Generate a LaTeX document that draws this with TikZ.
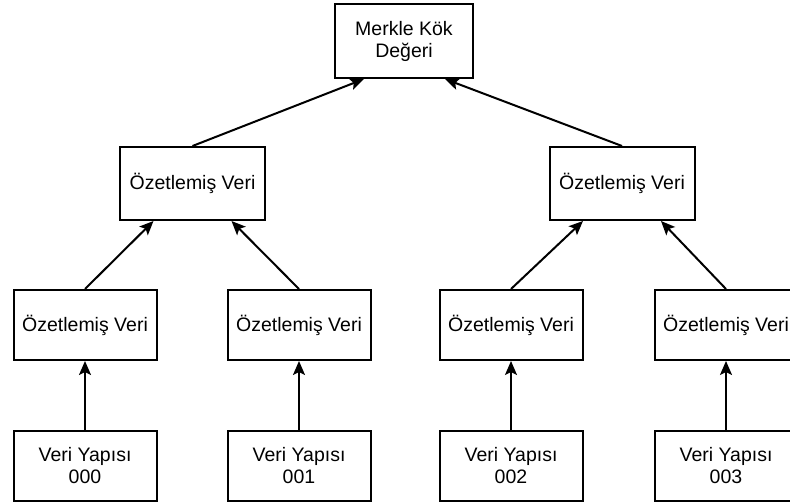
\documentclass[tikz,border=0pt]{standalone}
\usepackage{fontspec}
\setmainfont{Liberation Sans}
\usetikzlibrary{arrows.meta}
\begin{document}
\begin{tikzpicture}[x=1pt,y=1pt,
        box/.style={draw, line width=2pt, fill=white, align=center,
                    font=\fontsize{19.5}{22}\selectfont, inner sep=0pt},
        leaf/.style={box, minimum width=143pt, minimum height=70pt},
        mid/.style={box, minimum width=145pt, minimum height=73pt},
        link/.style={line width=2pt, -{Stealth[length=14pt,width=12pt,inset=3pt]}}]
        \useasboundingbox (0,0) rectangle (790,-503);

        \node[box, minimum width=138pt, minimum height=74pt] (root) at (404,-41) {Merkle Kök\\Değeri};

        \node[mid] (h1) at (192.5,-183.5) {Özetlemiş Veri};
        \node[mid] (h2) at (622,-183.5) {Özetlemiş Veri};

        \node[leaf] (l1) at (85,-325) {Özetlemiş Veri};
        \node[leaf] (l2) at (299,-325) {Özetlemiş Veri};
        \node[leaf] (l3) at (511,-325) {Özetlemiş Veri};
        \node[leaf] (l4) at (726,-325) {Özetlemiş Veri};

        \node[leaf] (d1) at (85,-466) {Veri Yapısı\\000};
        \node[leaf] (d2) at (299,-466) {Veri Yapısı\\001};
        \node[leaf] (d3) at (511,-466) {Veri Yapısı\\002};
        \node[leaf] (d4) at (726,-466) {Veri Yapısı\\003};

        % data to hash
        \draw[link] (d1.north) -- (l1.south);
        \draw[link] (d2.north) -- (l2.south);
        \draw[link] (d3.north) -- (l3.south);
        \draw[link] (d4.north) -- (l4.south);

        % hash pairs
        \draw[link] (l1.north) -- ([xshift=-39pt]h1.south);
        \draw[link] (l2.north) -- ([xshift=39pt]h1.south);
        \draw[link] (l3.north) -- ([xshift=-39pt]h2.south);
        \draw[link] (l4.north) -- ([xshift=39pt]h2.south);

        % root
        \draw[link] (h1.north) -- ([xshift=-40pt]root.south);
        \draw[link] (h2.north) -- ([xshift=41pt]root.south);
    \end{tikzpicture}
\end{document}
